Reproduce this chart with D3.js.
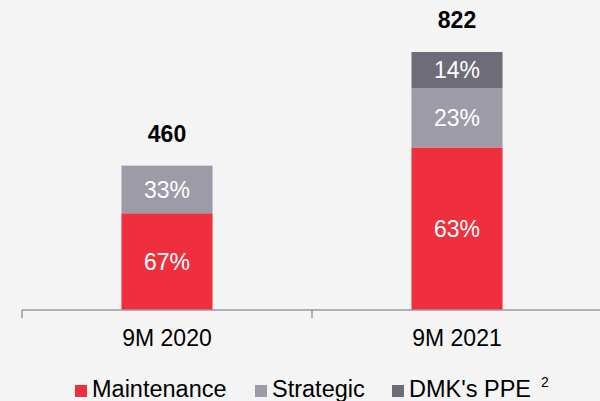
<!DOCTYPE html>
<html>
<head>
<meta charset="utf-8">
<script src="https://cdn.jsdelivr.net/npm/d3@7"></script>
<style>
  html, body { margin: 0; padding: 0; background: #f4f4f4; }
  svg { display: block; font-family: "Liberation Sans", Arial, sans-serif; }
</style>
</head>
<body>
<div id="chart"></div>
<script>
// Dati
const categories = ['9M 2020', '9M 2021'];
const totals = [460, 822];
const seriesNames = ['Maintenance', 'Strategic', "DMK's PPE"];
const maintenance = [67, 63];
const strategic = [33, 23];
const dmkPpe = [0, 14];
const colors = ['#ef2f3e', '#9d9ba7', '#6d6c78'];

const width = 600, height = 401;
const baseY = 310;

const svg = d3.select('#chart')
    .append('svg')
    .attr('width', width)
    .attr('height', height);

// Scale
const x = d3.scaleBand()
    .domain(categories)
    .range([22, 602])
    .padding(0);

const y = d3.scaleLinear()
    .domain([0, d3.max(totals)])
    .range([baseY, 52]);

const barW = x.bandwidth() * 0.314;

// Stack
const rows = categories.map((c, i) => ({
    cat: c,
    Maintenance: totals[i] * maintenance[i] / 100,
    Strategic: totals[i] * strategic[i] / 100,
    "DMK's PPE": totals[i] * dmkPpe[i] / 100,
    pct: { Maintenance: maintenance[i], Strategic: strategic[i], "DMK's PPE": dmkPpe[i] }
}));

const stack = d3.stack().keys(seriesNames)(rows);

const groups = svg.selectAll('.series')
    .data(stack)
    .enter()
    .append('g')
    .attr('fill', (d, i) => colors[i]);

groups.selectAll('rect')
    .data(d => d.map(p => ({ p, key: d.key })))
    .enter()
    .filter(d => d.p[1] > d.p[0])
    .append('rect')
    .attr('x', d => x(d.p.data.cat) + (x.bandwidth() - barW) / 2)
    .attr('y', d => y(d.p[1]))
    .attr('width', barW)
    .attr('height', d => y(d.p[0]) - y(d.p[1]));

// Percentuali dentro le barre
groups.selectAll('text')
    .data(d => d.map(p => ({ p, key: d.key })))
    .enter()
    .filter(d => d.p[1] > d.p[0])
    .append('text')
    .attr('x', d => x(d.p.data.cat) + x.bandwidth() / 2)
    .attr('y', d => (y(d.p[0]) + y(d.p[1])) / 2)
    .attr('dy', '0.36em')
    .attr('text-anchor', 'middle')
    .attr('font-size', '23px')
    .attr('fill', '#ffffff')
    .text(d => d.p.data.pct[d.key] + '%');

// Totali
svg.selectAll('.total')
    .data(categories)
    .enter()
    .append('text')
    .attr('x', d => x(d) + x.bandwidth() / 2)
    .attr('y', (d, i) => y(totals[i]) - 32)
    .attr('dy', '0.36em')
    .attr('text-anchor', 'middle')
    .attr('font-size', '23px')
    .attr('font-weight', 'bold')
    .attr('fill', '#000')
    .text((d, i) => totals[i]);

// Asse X
const axis = svg.append('g')
    .attr('transform', `translate(0,${baseY})`);

axis.append('line')
    .attr('x1', x.range()[0])
    .attr('x2', width)
    .attr('stroke', '#9a9a9a')
    .attr('stroke-width', 1.5);

axis.selectAll('.tick')
    .data([x.range()[0], ...categories.slice(1).map(c => x(c))])
    .enter()
    .append('line')
    .attr('x1', d => d)
    .attr('x2', d => d)
    .attr('y1', 0)
    .attr('y2', 8)
    .attr('stroke', '#9a9a9a')
    .attr('stroke-width', 1.5);

axis.selectAll('.label')
    .data(categories)
    .enter()
    .append('text')
    .attr('x', d => x(d) + x.bandwidth() / 2)
    .attr('y', 36)
    .attr('text-anchor', 'middle')
    .attr('font-size', '23px')
    .attr('fill', '#000')
    .text(d => d);

// Legenda
const legendX = [75, 255, 392];
const legend = svg.selectAll('.legend')
    .data(seriesNames)
    .enter()
    .append('g')
    .attr('transform', (d, i) => `translate(${legendX[i]},385)`);

legend.append('rect')
    .attr('width', 12)
    .attr('height', 12)
    .attr('fill', (d, i) => colors[i]);

legend.append('text')
    .attr('x', 17)
    .attr('y', 12)
    .attr('font-size', '23.5px')
    .attr('fill', '#000')
    .text(d => d);

svg.append('text')
    .attr('x', 541)
    .attr('y', 387)
    .attr('font-size', '14px')
    .attr('fill', '#000')
    .text('2');
</script>
</body>
</html>
